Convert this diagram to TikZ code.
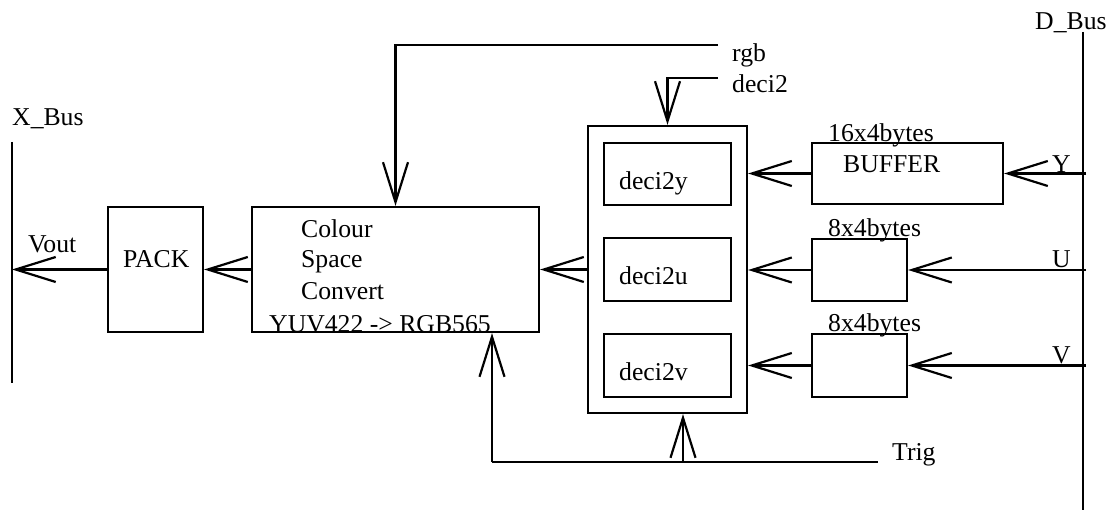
\documentclass[tikz,border=0pt]{standalone}
\usepackage{fontspec}
\setmainfont{Liberation Serif}
\usetikzlibrary{arrows.meta}
\begin{document}
\begin{tikzpicture}[x=1pt,y=-1pt,
  every node/.style={font=\fontsize{25.7}{30}\selectfont},
  blk/.style={draw,line width=2.2pt,inner sep=0pt,minimum width=#1},
  txt/.style={anchor=base west,inner sep=0pt},
  ln/.style={line width=2.2pt},
  arr/.style={line width=2.2pt,-{Straight Barb[length=40pt,width=25pt,line width=2.2pt]}}]
\useasboundingbox (0,0) rectangle (1113,510);
% boxes
\node[blk=95pt,minimum height=125pt] (pack) at (155.5,269.5) {};
\node[blk=287pt,minimum height=125pt] (csc) at (395.5,269.5) {};
\node[blk=159pt,minimum height=287pt] (outer) at (667.5,269.5) {};
\node[blk=127pt,minimum height=62pt] (dy) at (667.5,174) {};
\node[blk=127pt,minimum height=63pt] (du) at (667.5,269.5) {};
\node[blk=127pt,minimum height=63pt] (dv) at (667.5,365.5) {};
\node[blk=191pt,minimum height=61pt] (buf) at (907.5,173.5) {};
\node[blk=95pt,minimum height=62pt] (bu) at (859.5,270) {};
\node[blk=95pt,minimum height=63pt] (bv) at (859.5,365.5) {};
% texts
\node[txt] (tx) at (12,126) {X\_Bus};
\node[txt] (tvout) at (28,253) {Vout};
\node[txt] (tpack) at (123,268) {PACK};
\node[txt] (tc1) at (301,238) {Colour};
\node[txt] (tc2) at (301,268) {Space};
\node[txt] (tc3) at (301,300) {Convert};
\node[txt] (tc4) at (269,333) {YUV422 -> RGB565};
\node[txt] (tdy) at (619,190) {deci2y};
\node[txt] (tdu) at (619,285) {deci2u};
\node[txt] (tdv) at (619,380) {deci2v};
\node[txt] (t16) at (828,142) {16x4bytes};
\node[txt] (tbuf) at (843,173) {BUFFER};
\node[txt] (t8a) at (828,237) {8x4bytes};
\node[txt] (t8b) at (828,332) {8x4bytes};
\node[txt] (tY) at (1052,173) {Y};
\node[txt] (tU) at (1052,268) {U};
\node[txt] (tV) at (1052,363) {V};
\node[txt] (tdb) at (1035,30) {D\_Bus};
\node[txt] (trgb) at (732,62) {rgb};
\node[txt] (td2) at (732,93) {deci2};
\node[txt] (ttrig) at (892,460) {Trig};
% buses
\coordinate (xt) at (12,142);
\coordinate (xb) at (12,383);
\draw[ln] (xt) -- (xb);
\coordinate (dt) at (1083,32);
\coordinate (db) at (1083,510);
\draw[ln] (dt) -- (db);
% coordinates
\coordinate (xv) at (12,269.5);
\coordinate (dY) at (1086,173.5);
\coordinate (dU) at (1086,270);
\coordinate (dV) at (1086,365.5);
\coordinate (rgbend) at (718,45);
\coordinate (d2end) at (718,78);
\coordinate (trigL) at (492,462);
\coordinate (trigM) at (683,462);
\coordinate (trigR) at (878,462);
% connectors
\draw[arr] (pack.west) -- (xv);
\draw[arr] (csc.west) -- (pack.east);
\draw[arr] (outer.west) -- (csc.east);
\draw[arr] (buf.west) -- (buf.west -| outer.east);
\draw[arr] (bu.west) -- (bu.west -| outer.east);
\draw[arr] (bv.west) -- (bv.west -| outer.east);
\draw[arr] (dY) -- (buf.east);
\draw[arr] (dU) -- (bu.east);
\draw[arr] (dV) -- (bv.east);
\draw[arr] (rgbend) -| (csc.north);
\draw[arr] (d2end) -| (outer.north);
\draw[ln] (trigL) -- (trigR);
\draw[arr] (trigL) -- (trigL |- csc.south);
\draw[arr] (trigM) -- (trigM |- outer.south);
\end{tikzpicture}
\end{document}
